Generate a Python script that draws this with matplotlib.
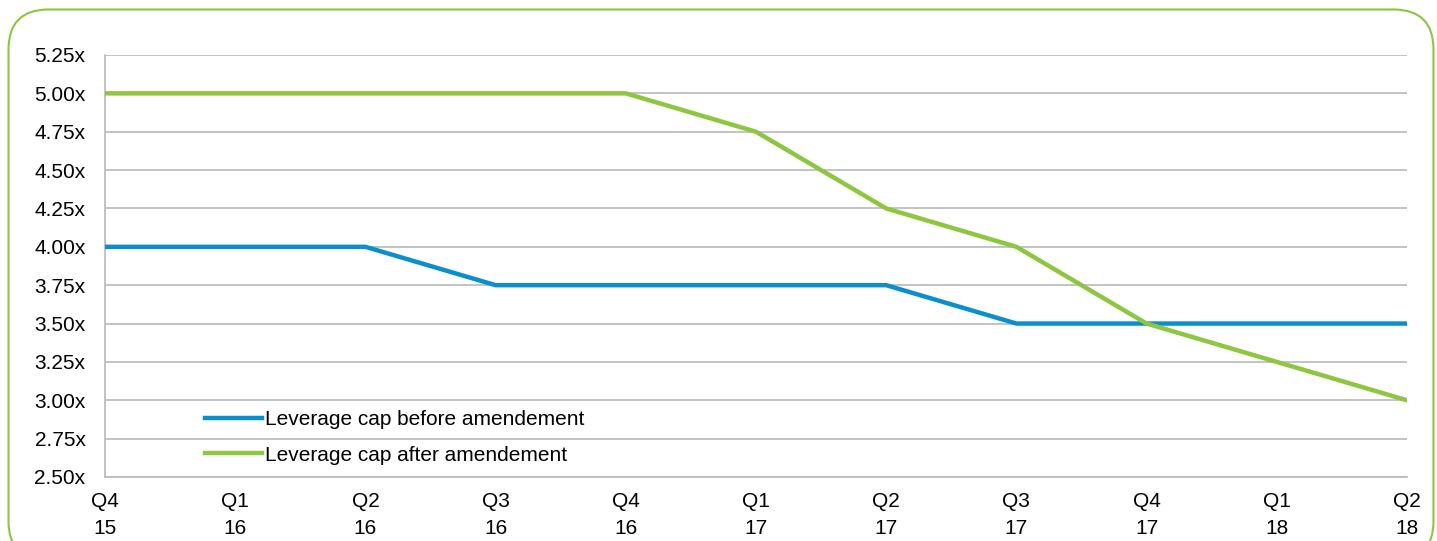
import matplotlib.pyplot as plt
from matplotlib.patches import FancyBboxPatch

plt.rcParams['font.family'] = ['Liberation Sans', 'DejaVu Sans']

# data
quarters = ["Q4\n15", "Q1\n16", "Q2\n16", "Q3\n16", "Q4\n16", "Q1\n17",
            "Q2\n17", "Q3\n17", "Q4\n17", "Q1\n18", "Q2\n18"]
cap_before = [4.00, 4.00, 4.00, 3.75, 3.75, 3.75, 3.75, 3.50, 3.50, 3.50, 3.50]
cap_after = [5.00, 5.00, 5.00, 5.00, 5.00, 4.75, 4.25, 4.00, 3.50, 3.25, 3.00]
yticks = [2.50, 2.75, 3.00, 3.25, 3.50, 3.75, 4.00, 4.25, 4.50, 4.75, 5.00, 5.25]

blue = "#0a8fce"
green = "#8dc63f"
grid_col = "#b6babe"

fig = plt.figure(figsize=(14.37, 5.41), dpi=100)

# rounded green frame round the chart (in inches, bottom runs off the image)
frame = FancyBboxPatch((0.085, -0.2), 14.25, 5.515,
                       boxstyle="round,pad=0,rounding_size=0.4",
                       transform=fig.dpi_scale_trans, facecolor="none",
                       edgecolor=green, linewidth=1.5, zorder=-1)
fig.patches.append(frame)

ax = fig.add_axes([105 / 1437, 1 - 477 / 541, 1302 / 1437, 422 / 541])
ax.set_facecolor("none")

x = list(range(len(quarters)))
ax.plot(x, cap_before, color=blue, lw=3.2, label="Leverage cap before amendement", zorder=3)
ax.plot(x, cap_after, color=green, lw=3.2, label="Leverage cap after amendement", zorder=3)

ax.set_xlim(0, len(quarters) - 1)
ax.set_ylim(2.5, 5.25)
ax.set_yticks(yticks)
ax.set_yticklabels([f"{v:.2f}x" for v in yticks])
ax.set_xticks(x)
ax.set_xticklabels(quarters)

ax.grid(axis="y", color=grid_col, lw=1.2)
ax.set_axisbelow(True)
for s in ["top", "right"]:
    ax.spines[s].set_visible(False)
for s in ["left", "bottom"]:
    ax.spines[s].set_color(grid_col)
    ax.spines[s].set_linewidth(1.2)

ax.tick_params(axis="both", length=0, labelsize=15, colors="black")
ax.tick_params(axis="y", pad=14)
ax.tick_params(axis="x", pad=11)
for lbl in ax.get_xticklabels():
    lbl.set_linespacing(1.5)

ax.legend(loc="upper left", bbox_to_anchor=(0.0768, 0.158), frameon=False,
          fontsize=15, handlelength=2.74, handletextpad=0.15,
          labelspacing=0.78, borderpad=0, borderaxespad=0)

fig.savefig("out.png", dpi=100)
